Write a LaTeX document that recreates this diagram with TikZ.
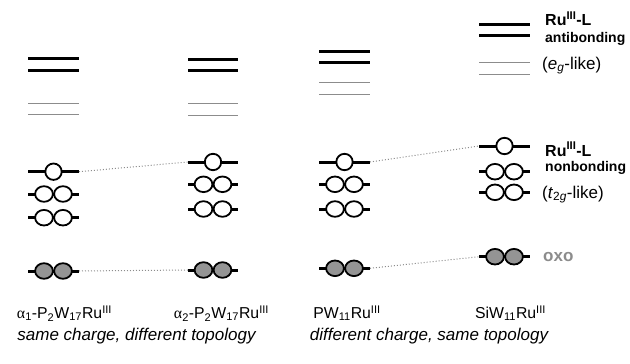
\documentclass[tikz,border=0pt]{standalone}
\usepackage{fontspec}
\setmainfont{Liberation Sans}
\newfontfamily\grk{Liberation Serif}
\begin{document}
\begin{tikzpicture}[x=1pt,y=-1pt,
  thickline/.style={line width=3pt,black},
  thinline/.style={line width=1pt,black!45},
  orbline/.style={line width=3pt,black},
  orbcirc/.style={line width=1.8pt,black,fill=white},
  oxocirc/.style={line width=1.8pt,black,fill=black!42},
  conn/.style={dotted,line width=1pt,black!45},
  lab/.style={font=\fontsize{15.8}{18}\selectfont,anchor=base,inner sep=0pt},
  note/.style={font=\fontsize{17}{20}\selectfont\itshape,anchor=base,inner sep=0pt},
  rlab/.style={anchor=base west,inner sep=0pt}]
\useasboundingbox (0,0) rectangle (630,364);
\foreach \n/\a/\b/\ta/\tb/\ua/\ub/\s/\da/\db/\o in {
  c1/28/79/58.7/70.7/103/114.7/171.7/194/217.7/271,
  c2/188/238/59/70.7/103.3/115/162/184.3/209/270,
  c3/319/370/51/62.7/82/94.3/162/184.3/209/268.3,
  c4/479/530/24.3/35.3/62.3/74.7/146/171.7/192.3/256.7}{
  \pgfmathsetmacro\m{(\a+\b)/2}
  \draw[thickline] (\a,\ta) -- (\b,\ta);
  \draw[thickline] (\a,\tb) -- (\b,\tb);
  \draw[thinline] (\a,\ua) -- (\b,\ua);
  \draw[thinline] (\a,\ub) -- (\b,\ub);
  \draw[orbline] (\a,\s) coordinate (\n-sl) -- (\b,\s) coordinate (\n-sr);
  \draw[orbcirc] (\m,\s) circle (8.2);
  \foreach \y in {\da,\db}{
    \draw[orbline] (\a,\y) -- (\b,\y);
    \draw[orbcirc] (\m-9.5,\y) ellipse [x radius=8.9, y radius=7.8];
    \draw[orbcirc] (\m+9.5,\y) ellipse [x radius=8.9, y radius=7.8];
  }
  \draw[orbline] (\a,\o) coordinate (\n-ol) -- (\b,\o) coordinate (\n-or);
  \draw[oxocirc] (\m-9.5,\o) ellipse [x radius=8.9, y radius=7.8];
  \draw[oxocirc] (\m+9.5,\o) ellipse [x radius=8.9, y radius=7.8];
}
\draw[conn] (c1-sr) -- (c2-sl);
\draw[conn] (c1-or) -- (c2-ol);
\draw[conn] (c3-sr) -- (c4-sl);
\draw[conn] (c3-or) -- (c4-ol);
% right labels
\node[rlab,font=\fontsize{16}{18}\selectfont\bfseries] (abt) at (545,26) {Ru\textsuperscript{III}-L};
\node[rlab,font=\fontsize{14}{16}\selectfont\bfseries] (abb) at (545,42) {antibonding};
\node[rlab,font=\fontsize{17}{19}\selectfont] (eg) at (542,69) {(\textit{e}\textsubscript{\textit{g}}-like)};
\node[rlab,font=\fontsize{16}{18}\selectfont\bfseries] (nbt) at (545,156) {Ru\textsuperscript{III}-L};
\node[rlab,font=\fontsize{14}{16}\selectfont\bfseries] (nbb) at (545,171.7) {nonbonding};
\node[rlab,font=\fontsize{17}{19}\selectfont] (t2g) at (542,198) {(\textit{t}\textsubscript{2\textit{g}}-like)};
\node[rlab,font=\fontsize{17}{19}\selectfont\bfseries,text=black!45] (oxo) at (543,261.7) {oxo};
% column labels
\node[lab] (l1) at (64.5,318.3) {{\grk α}\textsubscript{1}-P\textsubscript{2}W\textsubscript{17}Ru\textsuperscript{III}};
\node[lab] (l2) at (221.5,318.3) {{\grk α}\textsubscript{2}-P\textsubscript{2}W\textsubscript{17}Ru\textsuperscript{III}};
\node[lab] (l3) at (347,318.3) {PW\textsubscript{11}Ru\textsuperscript{III}};
\node[lab] (l4) at (510.5,318.3) {SiW\textsubscript{11}Ru\textsuperscript{III}};
\node[note] (n1) at (136.5,340.7) {same charge, different topology};
\node[note] (n2) at (429,340.7) {different charge, same topology};
\end{tikzpicture}
\end{document}
